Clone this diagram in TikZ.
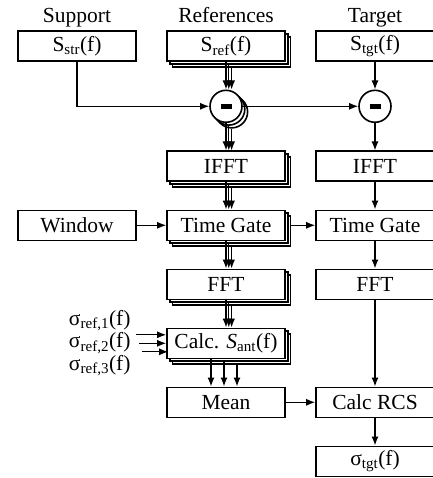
\documentclass[tikz,border=0pt]{standalone}
\usepackage{fontspec}
\setmainfont{Liberation Serif}
\usetikzlibrary{positioning, arrows.meta, calc, shadows}

\begin{document}
\begin{tikzpicture}[
        every node/.style={font=\fontsize{21.5}{25}\selectfont},
        block/.style={draw, rectangle, fill=white, line width=1.6pt, minimum width=118pt, minimum height=30pt, inner sep=0pt, align=center},
        stack/.style={block,
            general shadow={shadow xshift=5.6pt, shadow yshift=-5.6pt, draw=black, fill=white},
            general shadow={shadow xshift=2.8pt, shadow yshift=-2.8pt, draw=black, fill=white}},
        diff/.style={draw, circle, fill=white, line width=1.6pt, minimum size=32pt, inner sep=0pt},
        diffstack/.style={diff,
            general shadow={shadow xshift=5.6pt, shadow yshift=-5.6pt, draw=black, fill=white},
            general shadow={shadow xshift=2.8pt, shadow yshift=-2.8pt, draw=black, fill=white}},
        title/.style={anchor=base, inner sep=0pt},
        sigin/.style={anchor=east, inner sep=0pt},
        node distance=27.4pt and 29.4pt, line width=1.3pt, >={Latex[length=9pt, width=7pt]}]

        \useasboundingbox (0pt,0pt) rectangle (432pt,-478pt);

        % Coluna das referencias
        \node (sref) [stack] at (226pt,-46.3pt) {S\textsubscript{ref}(f)};
        \node (diff1) [diffstack, below=of sref] {\rule{11pt}{4.5pt}};
        \node (ifft) [stack, below=of diff1] {IFFT};
        \node (tg) [stack, below=of ifft] {Time Gate};
        \node (fft) [stack, below=of tg] {FFT};
        \node (calc) [stack, below=of fft] {Calc. \textit{S}\textsubscript{ant}(f)};
        \node (mean) [block, below=of calc] {Mean};

        % Coluna do suporte
        \node (ssup) [block, left=of sref] {S\textsubscript{str}(f)};
        \node (window) [block, left=of tg] {Window};

        % Coluna do alvo
        \node (stgt) [block, right=of sref] {S\textsubscript{tgt}(f)};
        \node (diff2) [diff, below=of stgt] {\rule{11pt}{4.5pt}};
        \node (ifft2) [block, below=of diff2] {IFFT};
        \node (tg2) [block, below=of ifft2] {Time Gate};
        \node (fft2) [block, below=of tg2] {FFT};
        \node (rcs) [block] at (fft2 |- mean) {Calc RCS};
        \node (sigtgt) [block, below=of rcs] {σ\textsubscript{tgt}(f)};

        % Titulos
        \node (tsup) [title] at ($(ssup.north)+(0,8pt)$) {Support};
        \node (tref) [title] at ($(sref.north)+(0,8pt)$) {References};
        \node (ttgt) [title] at ($(stgt.north)+(0,8pt)$) {Target};

        % Entradas sigma
        \node (sig1) [sigin] at ($(calc.west)+(-35pt,22.5pt)$) {σ\textsubscript{ref,1}(f)};
        \node (sig2) [sigin] at ($(calc.west)+(-35pt,0pt)$) {σ\textsubscript{ref,2}(f)};
        \node (sig3) [sigin] at ($(calc.west)+(-35pt,-22.5pt)$) {σ\textsubscript{ref,3}(f)};

        % Conexoes
        \foreach \a/\b in {sref/diff1, diff1/ifft, ifft/tg, tg/fft, fft/calc}
            \foreach \i in {0,1,2}
                \draw[->] ($(\a.south)+(\i*2.8pt,-\i*2.8pt)$) -- ($(\b.north)+(\i*2.8pt,0)$);

        \foreach \i in {0,1,2}
            \draw[->] ($(calc.south)+(-15pt+\i*13pt,-\i*2.8pt)$) -- ($(mean.north)+(-15pt+\i*13pt,0)$);

        \draw[->] ($(calc.west)+(-30pt,8.5pt)$) -- ($(calc.west)+(0,8.5pt)$);
        \draw[->] ($(calc.west)+(-27pt,0pt)$) -- (calc.west);
        \draw[->] ($(calc.west)+(-24pt,-8.5pt)$) -- ($(calc.west)+(2pt,-8.5pt)$);

        \draw[->] (ssup) |- (diff1);
        \draw[->] (diff1) -- (diff2);
        \draw[->] (window) -- (tg);
        \draw[->] ($(tg.east)+(5.6pt,0)$) -- (tg2);
        \draw[->] (mean) -- (rcs);

        \draw[->] (stgt) -- (diff2);
        \draw[->] (diff2) -- (ifft2);
        \draw[->] (ifft2) -- (tg2);
        \draw[->] (tg2) -- (fft2);
        \draw[->] (fft2) -- (rcs);
        \draw[->] (rcs) -- (sigtgt);
\end{tikzpicture}
\end{document}
